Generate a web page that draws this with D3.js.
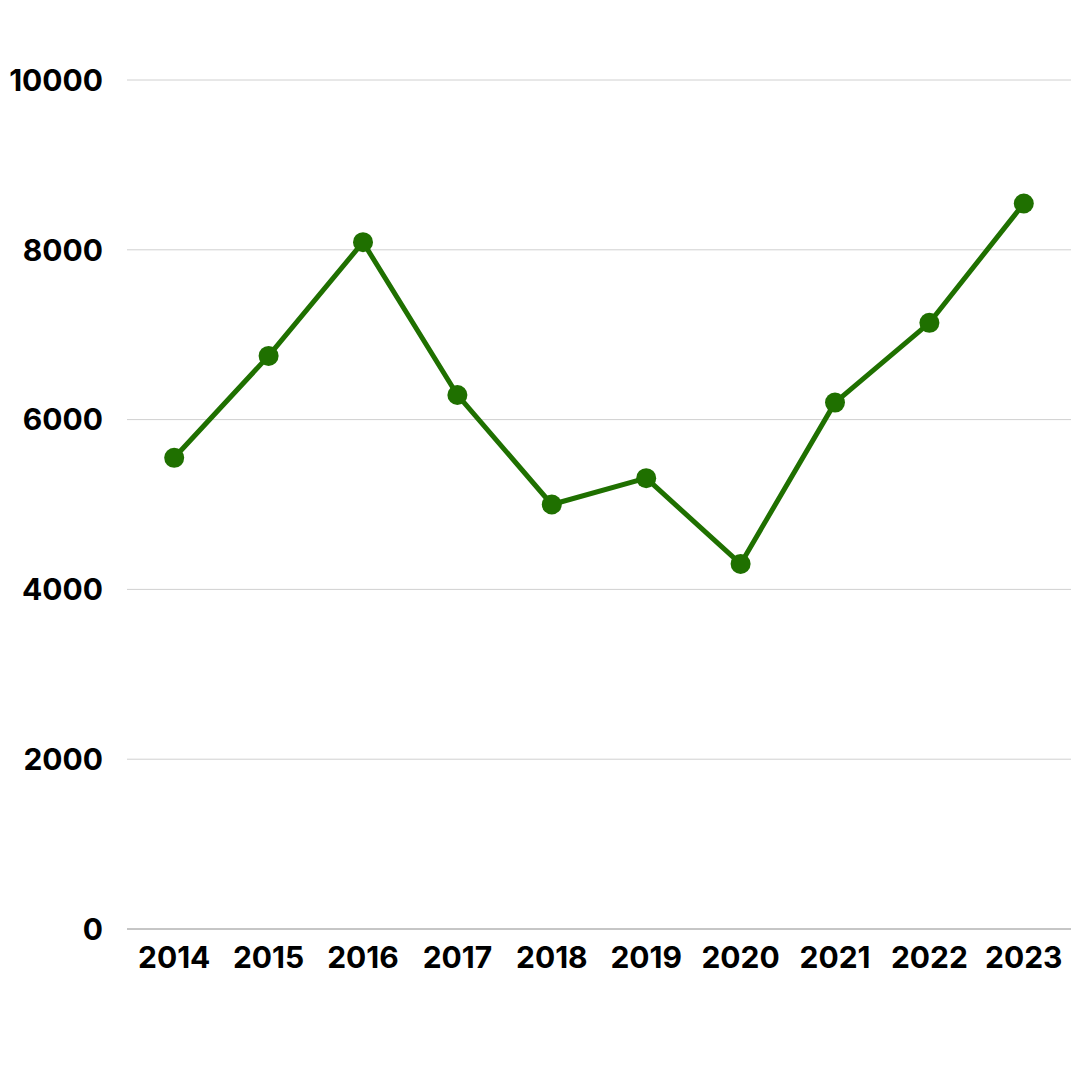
<!DOCTYPE html>
<html><head><meta charset="utf-8">
<script src="https://cdn.jsdelivr.net/npm/d3@7"></script>
<style>body{margin:0;background:#fff;}svg{display:block;}</style>
</head><body>
<svg id="c" width="1080" height="1080"></svg>
<script>
const years = ["2014","2015","2016","2017","2018","2019","2020","2021","2022","2023"];
const values = [5550, 6750, 8090, 6290, 5000, 5310, 4300, 6200, 7140, 8545];
const yTicks = [0, 2000, 4000, 6000, 8000, 10000];

const svg = d3.select("#c");
const m = {left:127, right:1071, top:80, bottom:929};
const x = d3.scalePoint().domain(years).range([m.left, m.right]).padding(0.5);
const y = d3.scaleLinear().domain([0, 10000]).range([m.bottom, m.top]);
const font = "Inter, 'Noto Sans', sans-serif";

svg.append("g").selectAll("line").data(yTicks.filter(d=>d>0)).join("line")
  .attr("x1", m.left).attr("x2", m.right)
  .attr("y1", d=>y(d)).attr("y2", d=>y(d))
  .attr("stroke", "#d0d0d0").attr("stroke-width", 1);

svg.append("line").attr("x1", m.left).attr("x2", m.right)
  .attr("y1", y(0)).attr("y2", y(0)).attr("stroke", "#8c8c8c").attr("stroke-width", 1);

svg.append("g").selectAll("text").data(yTicks).join("text")
  .attr("x", 103).attr("y", d=>y(d)).attr("dy", "0.36em")
  .attr("text-anchor", "end").attr("font-family", font).attr("font-weight", 700)
  .attr("font-size", 30).attr("fill", "#000").text(d=>d);

svg.append("g").selectAll("text").data(years).join("text")
  .attr("x", d=>x(d)).attr("y", 957).attr("dy", "0.36em")
  .attr("text-anchor", "middle").attr("font-family", font).attr("font-weight", 700)
  .attr("font-size", 30).attr("fill", "#000").text(d=>d);

const data = years.map((d,i)=>({year:d, value:values[i]}));
svg.append("path").datum(data)
  .attr("d", d3.line().x(d=>x(d.year)).y(d=>y(d.value)))
  .attr("fill", "none").attr("stroke", "#1f7000").attr("stroke-width", 5)
  .attr("stroke-linejoin", "round");

svg.append("g").selectAll("circle").data(data).join("circle")
  .attr("cx", d=>x(d.year)).attr("cy", d=>y(d.value)).attr("r", 10)
  .attr("fill", "#1f7000");
</script>
</body></html>
